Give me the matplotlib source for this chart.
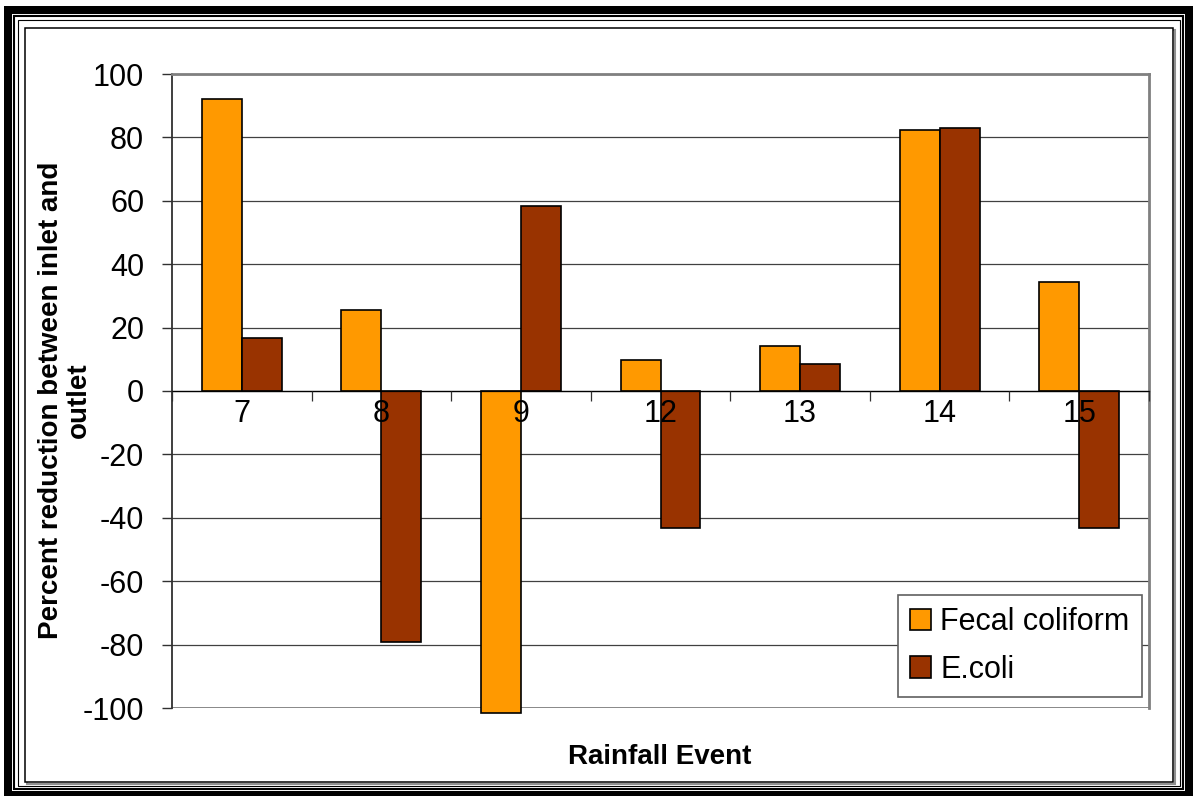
import numpy as np
import matplotlib.pyplot as plt
from matplotlib.patches import Rectangle

plt.rcParams['font.family'] = ['Liberation Sans', 'DejaVu Sans']
plt.rcParams['axes.unicode_minus'] = False

# données
events = ['7', '8', '9', '12', '13', '14', '15']
fecal = [92, 25.5, -101.5, 9.8, 14.2, 82.3, 34.4]
ecoli = [16.8, -79.2, 58.4, -43.2, 8.5, 83, -43.2]
yticks = [-100, -80, -60, -40, -20, 0, 20, 40, 60, 80, 100]

W, H = 1193, 796
fig = plt.figure(figsize=(W / 100, H / 100), dpi=100)


def cadre(x0, y0, x1, y1, **kw):
    # rectangle en pixels (origine en haut a gauche), derriere les axes
    r = Rectangle((x0 / W, 1 - y1 / H), (x1 - x0) / W, (y1 - y0) / H,
                  transform=fig.transFigure, zorder=-5, **kw)
    fig.add_artist(r)


# bordure exterieure
cadre(4, 6, 1193, 797, facecolor='black', edgecolor='none')
cadre(12, 14, 1185, 791, facecolor='white', edgecolor='none')
cadre(14.3, 16.3, 1182.7, 788.7, facecolor='none', edgecolor='black', lw=1.5)
cadre(17.5, 19.5, 1179.5, 785.5, facecolor='none', edgecolor='black', lw=0.8)
cadre(27, 30, 1175, 784, facecolor='none', edgecolor='#909090', lw=1.5)
cadre(25, 28, 1173, 782, facecolor='white', edgecolor='black', lw=1.1)

ax = fig.add_axes([172 / W, 1 - 708 / H, (1149 - 172) / W, (708 - 74) / H])

x = np.arange(len(events))
w = 0.286
ax.bar(x - w / 2, fecal, w, color='#FF9900', edgecolor='black', lw=1.2,
       label='Fecal coliform', zorder=2, clip_on=False)
ax.bar(x + w / 2, ecoli, w, color='#993300', edgecolor='black', lw=1.2,
       label='E.coli', zorder=2)

ax.set_xlim(-0.5, len(events) - 0.5)
ax.set_ylim(-100, 100)
ax.set_yticks(yticks)
ax.yaxis.grid(True, color='#404040', lw=0.9, zorder=0)
ax.set_axisbelow(True)
ax.xaxis.set_zorder(4)  # etiquettes 7, 8, 9... par-dessus les barres
ax.axhline(-100, color='#808080', lw=2, zorder=1)

ax.spines['bottom'].set_position(('data', 0))
ax.spines['bottom'].set_color('black')
ax.spines['bottom'].set_linewidth(0.9)
ax.spines['bottom'].set_zorder(3)
ax.spines['left'].set_color('#303030')
ax.spines['left'].set_linewidth(1.3)
for s in ['top', 'right']:
    ax.spines[s].set_color('#808080')
    ax.spines[s].set_linewidth(2)

ax.set_xticks(np.arange(len(events) + 1) - 0.5)
ax.set_xticklabels([])
ax.set_xticks(x, minor=True)
ax.set_xticklabels(events, minor=True)
ax.tick_params(axis='x', which='major', direction='out', length=7, width=0.9, color='#303030')
ax.tick_params(axis='x', which='minor', length=0, pad=6, labelsize=22)
ax.tick_params(axis='y', direction='out', length=7, width=1, color='#303030',
               pad=13, labelsize=22)

fig.text(65 / W, 1 - 400 / H, 'Percent reduction between inlet and\noutlet',
         fontsize=20, fontweight='bold', rotation=90, ha='center', va='center',
         multialignment='center', linespacing=1.1)
fig.text(660 / W, 1 - 757 / H, 'Rainfall Event', fontsize=20, fontweight='bold',
         ha='center', va='center')

leg = ax.legend(loc='lower right', bbox_to_anchor=(0.9928, 0.0174), fontsize=22,
                frameon=True, fancybox=False, edgecolor='#606060', framealpha=1,
                handlelength=0.69, handleheight=0.69, handletextpad=0.3,
                labelspacing=0.58, borderpad=0.4, borderaxespad=0)
leg.get_frame().set_linewidth(1.2)

fig.savefig('out.png', dpi=100)
